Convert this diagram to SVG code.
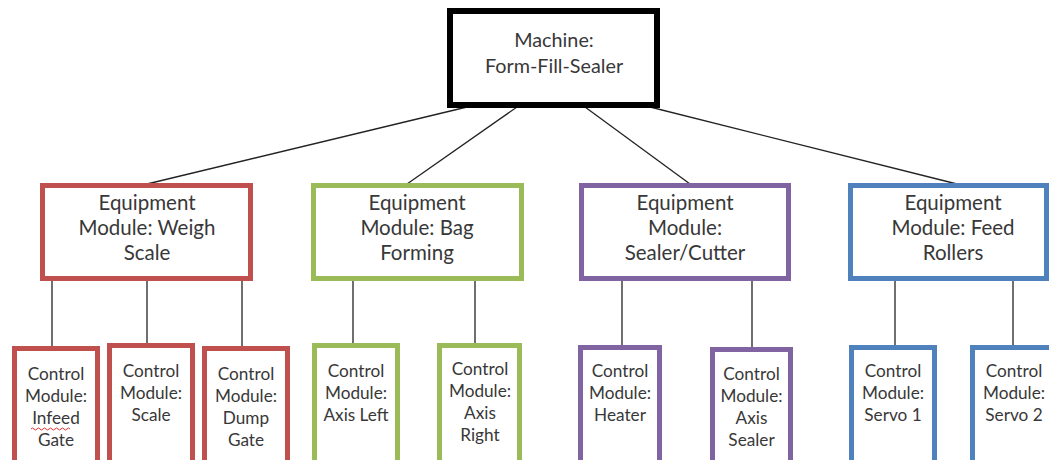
<svg xmlns="http://www.w3.org/2000/svg" width="1049" height="460" viewBox="0 0 1049 460">
  <style>
    .box { fill: #ffffff; stroke-width: 5; }
    .machine { fill: #ffffff; stroke: #000000; stroke-width: 6; }
    .red { stroke: #C0504D; }
    .green { stroke: #9BBB59; }
    .purple { stroke: #8064A2; }
    .blue { stroke: #4F81BD; }
    .link { stroke: #222222; stroke-width: 1.3; fill: none; }
    text { font-family: Lato, "Open Sans", "Liberation Sans", sans-serif; fill: #383838; text-anchor: middle; }
    .top { font-size: 19.8px; }
    .big { font-size: 20.5px; }
    .small { font-size: 17.2px; }
  </style>
  <rect width="1049" height="460" fill="#ffffff"/>

  <g id="connectors">
    <line class="link" x1="467" y1="107" x2="147" y2="184"/>
    <line class="link" x1="517" y1="107" x2="407" y2="184"/>
    <line class="link" x1="585" y1="107" x2="690" y2="184"/>
    <line class="link" x1="650" y1="107" x2="957" y2="184"/>
    <line class="link" x1="52" y1="280" x2="52" y2="347"/>
    <line class="link" x1="147" y1="280" x2="147" y2="345"/>
    <line class="link" x1="242" y1="280" x2="242" y2="347"/>
    <line class="link" x1="353" y1="280" x2="353" y2="345"/>
    <line class="link" x1="475" y1="280" x2="475" y2="345"/>
    <line class="link" x1="622" y1="280" x2="622" y2="347"/>
    <line class="link" x1="752" y1="280" x2="752" y2="349"/>
    <line class="link" x1="895" y1="280" x2="895" y2="347"/>
    <line class="link" x1="1013" y1="280" x2="1013" y2="347"/>
  </g>

  <g id="machine">
    <rect class="machine" x="450" y="11" width="207" height="94"/>
    <text class="top" x="554" y="47">Machine:</text>
    <text class="top" x="554" y="73">Form-Fill-Sealer</text>
  </g>

  <g id="em-weigh-scale">
    <rect class="box red" x="42.5" y="185.5" width="208" height="93"/>
    <text class="big" x="147" y="210">Equipment</text>
    <text class="big" x="147" y="235">Module: Weigh</text>
    <text class="big" x="147" y="260">Scale</text>
  </g>
  <g id="em-bag-forming">
    <rect class="box green" x="313.5" y="185.5" width="208" height="93"/>
    <text class="big" x="417" y="210">Equipment</text>
    <text class="big" x="417" y="235">Module: Bag</text>
    <text class="big" x="417" y="260">Forming</text>
  </g>
  <g id="em-sealer-cutter">
    <rect class="box purple" x="581.5" y="185.5" width="207" height="93"/>
    <text class="big" x="685" y="210">Equipment</text>
    <text class="big" x="685" y="235">Module:</text>
    <text class="big" x="685" y="260">Sealer/Cutter</text>
  </g>
  <g id="em-feed-rollers">
    <rect class="box blue" x="850.5" y="185.5" width="196" height="93"/>
    <text class="big" x="953" y="210">Equipment</text>
    <text class="big" x="953" y="235">Module: Feed</text>
    <text class="big" x="953" y="260">Rollers</text>
  </g>

  <g id="cm-infeed-gate">
    <rect class="box red" x="14.5" y="348.5" width="83" height="120"/>
    <text class="small" x="56" y="380">Control</text>
    <text class="small" x="56" y="402">Module:</text>
    <text class="small" x="56" y="424">Infeed</text>
    <text class="small" x="56" y="446">Gate</text>
    <path d="M31,429 q1.5,-2 3,0 t3,0 t3,0 t3,0 t3,0 t3,0 t3,0 t3,0 t3,0 t3,0 t3,0 t3,0 t3,0" fill="none" stroke="#e03030" stroke-width="1"/>
  </g>
  <g id="cm-scale">
    <rect class="box red" x="109.5" y="345.5" width="83" height="120"/>
    <text class="small" x="151" y="377">Control</text>
    <text class="small" x="151" y="399">Module:</text>
    <text class="small" x="151" y="421">Scale</text>
  </g>
  <g id="cm-dump-gate">
    <rect class="box red" x="204.5" y="348.5" width="83" height="120"/>
    <text class="small" x="246" y="380">Control</text>
    <text class="small" x="246" y="402">Module:</text>
    <text class="small" x="246" y="424">Dump</text>
    <text class="small" x="246" y="446">Gate</text>
  </g>
  <g id="cm-axis-left">
    <rect class="box green" x="314.5" y="345.5" width="83" height="120"/>
    <text class="small" x="356" y="377">Control</text>
    <text class="small" x="356" y="399">Module:</text>
    <text class="small" x="356" y="421">Axis Left</text>
  </g>
  <g id="cm-axis-right">
    <rect class="box green" x="439.5" y="345.5" width="80" height="120"/>
    <text class="small" x="480" y="375">Control</text>
    <text class="small" x="480" y="397">Module:</text>
    <text class="small" x="480" y="419">Axis</text>
    <text class="small" x="480" y="441">Right</text>
  </g>
  <g id="cm-heater">
    <rect class="box purple" x="580.5" y="347.5" width="79" height="120"/>
    <text class="small" x="620" y="377">Control</text>
    <text class="small" x="620" y="399">Module:</text>
    <text class="small" x="620" y="421">Heater</text>
  </g>
  <g id="cm-axis-sealer">
    <rect class="box purple" x="712.5" y="349.5" width="78" height="120"/>
    <text class="small" x="751.5" y="380">Control</text>
    <text class="small" x="751.5" y="402">Module:</text>
    <text class="small" x="751.5" y="424">Axis</text>
    <text class="small" x="751.5" y="446">Sealer</text>
  </g>
  <g id="cm-servo-1">
    <rect class="box blue" x="851.5" y="347.5" width="83" height="120"/>
    <text class="small" x="893" y="377">Control</text>
    <text class="small" x="893" y="399">Module:</text>
    <text class="small" x="893" y="421">Servo 1</text>
  </g>
  <g id="cm-servo-2">
    <rect class="box blue" x="972.5" y="347.5" width="83" height="120"/>
    <text class="small" x="1014" y="377">Control</text>
    <text class="small" x="1014" y="399">Module:</text>
    <text class="small" x="1014" y="421">Servo 2</text>
  </g>
</svg>
